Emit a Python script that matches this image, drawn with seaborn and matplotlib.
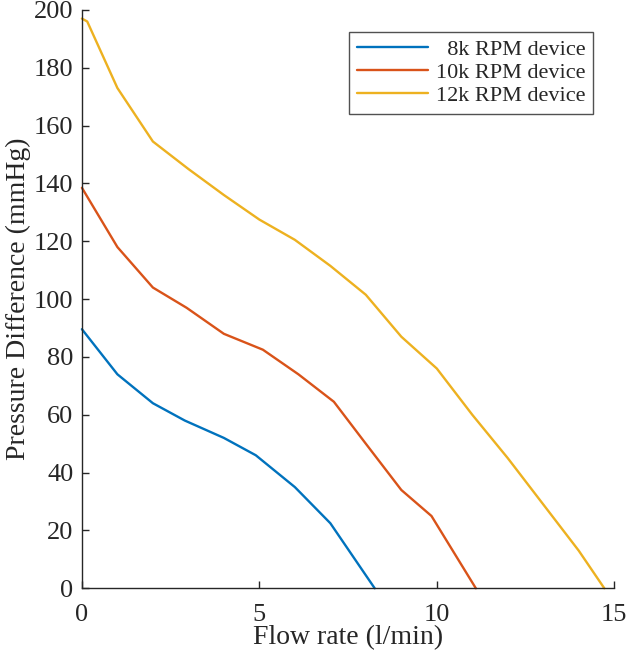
import pandas as pd
import matplotlib
matplotlib.use("Agg")
import matplotlib.pyplot as plt
import seaborn as sns

# Flow rate (l/min) and pressure difference (mmHg)
flow_8k = [0, 1, 2, 2.9, 4, 4.9, 6, 7, 8.25]
pres_8k = [89.6, 74, 64, 58, 52, 46, 35, 22.5, 0]

flow_10k = [0, 1, 2, 2.95, 4, 5.1, 6.1, 7.1, 8, 9, 9.85, 11.1]
pres_10k = [138.5, 118, 104, 97, 88, 82.5, 74, 64.5, 50, 34, 25, 0]

flow_12k = [0, 0.15, 1, 2, 3, 4, 5, 6, 7, 8, 9, 10, 11, 12, 13, 14, 14.72]
pres_12k = [197, 196, 173, 154.5, 145, 136, 127.5, 120.5, 111.5, 101.5, 87, 76, 60, 45, 29, 13, 0]

labels = ["  8k RPM device", "10k RPM device", "12k RPM device"]
colors = ["#0072BD", "#D95319", "#EDB120"]


def build_frame():
    parts = []
    for flow, pres, lab in zip([flow_8k, flow_10k, flow_12k],
                               [pres_8k, pres_10k, pres_12k], labels):
        parts.append(pd.DataFrame({"flow": flow, "pressure": pres, "device": lab}))
    return pd.concat(parts, ignore_index=True)


df = build_frame()

sns.set_theme(style="ticks")
plt.rcParams["font.family"] = ["Liberation Serif", "DejaVu Serif"]
plt.rcParams["xtick.direction"] = "in"
plt.rcParams["ytick.direction"] = "in"

fig = plt.figure(figsize=(6.30, 6.61), dpi=100)
ax = fig.add_axes([0.130, 0.110, 0.845, 0.875])

sns.lineplot(data=df, x="flow", y="pressure", hue="device", hue_order=labels,
             palette=colors, linewidth=1.7, sort=False, estimator=None, ax=ax,
             clip_on=False)

ax.set_xlim(0, 15)
ax.set_ylim(0, 200)
ax.set_xticks([0, 5, 10, 15])
ax.set_yticks(range(0, 201, 20))
ax.tick_params(labelsize=19, length=5, width=1, color="#262626",
               labelcolor="#262626")
ax.tick_params(axis="x", pad=11)
ax.tick_params(axis="y", pad=6)
ax.set_xlabel("Flow rate (l/min)", fontsize=20, color="#262626", labelpad=0)
ax.set_ylabel("Pressure Difference (mmHg)", fontsize=20, color="#262626", labelpad=2)
for side in ["top", "right"]:
    ax.spines[side].set_visible(False)
for side in ["left", "bottom"]:
    ax.spines[side].set_color("#262626")
    ax.spines[side].set_linewidth(1)

leg = ax.legend(loc="upper right", bbox_to_anchor=(0.960, 0.962), fontsize=16,
                frameon=True, fancybox=False, edgecolor="#262626",
                handlelength=3.2, borderpad=0.35, labelspacing=0.1,
                handletextpad=0.35, borderaxespad=0)
leg.get_frame().set_linewidth(1)
for t in leg.get_texts():
    t.set_color("#262626")

fig.savefig("out.png", dpi=100)
